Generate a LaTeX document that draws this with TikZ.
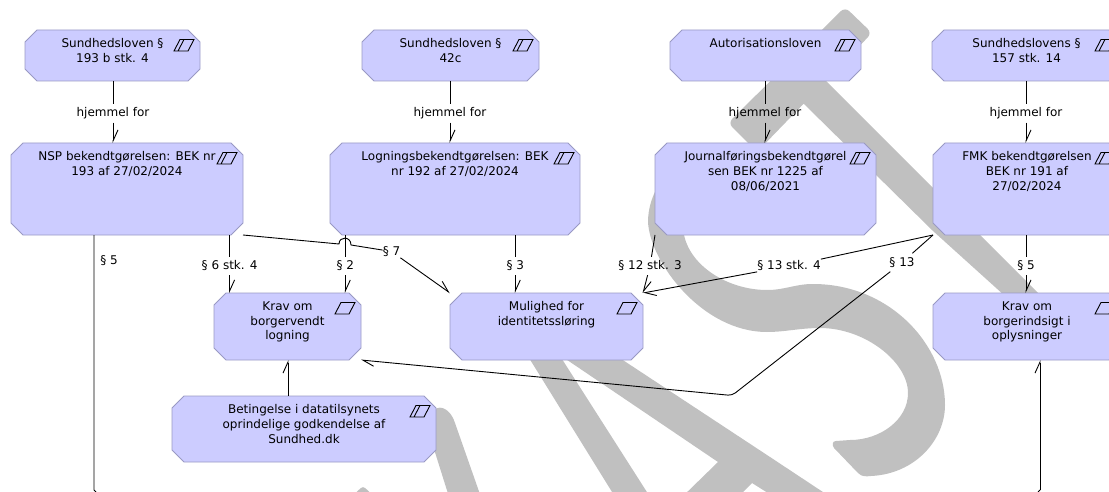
\documentclass[tikz,border=0pt]{standalone}
\usepackage{fontspec}
\setmainfont{DejaVu Sans}
\usetikzlibrary{arrows.meta,calc}
\definecolor{boxfill}{HTML}{CCCCFF}
\definecolor{boxline}{HTML}{9999C4}
\definecolor{wm}{HTML}{C0C0C0}
\tikzset{
  box/.style={draw=boxline,fill=boxfill,line width=0.9pt,line join=round},
  boxframe/.style={rectangle,inner sep=0pt,outer sep=0pt},
  boxtext/.style={anchor=north,align=center,inner sep=0pt,font=\fontsize{12}{14.7}\selectfont},
  lab/.style={inner sep=0pt,minimum height=18pt,font=\fontsize{12}{14}\selectfont},
  conn/.style={line width=0.9pt,black},
  arr/.style={conn,-{Straight Barb[left,length=11pt,width=10pt]}},
  icon/.style={line width=0.9pt,black}
}
\newcommand{\mkbox}[6]{% name, x1, y1, x2, y2, text
  \path[box] ({#2+12},#3)--({#4-12},#3)--(#4,{#3+12})--(#4,{#5-12})--({#4-12},#5)--({#2+12},#5)--(#2,{#5-12})--(#2,{#3+12})--cycle;
  \node[boxframe,minimum width={(#4-#2)*1pt},minimum height={(#5-#3)*1pt}] (#1) at ({(#2+#4)/2},{(#3+#5)/2}) {};
  \node[boxtext] (#1txt) at ($(#1.north)+(0,8.5)$) {#6};
}
\newcommand{\iconA}[1]{\draw[icon,shift={(#1.north east)}] (-20,9.5)--(-6,9.5)--(-12,21)--(-26,21)--cycle (-16,9.5)--(-22,21);}
\newcommand{\iconB}[1]{\draw[icon,shift={(#1.north east)}] (-20,9.5)--(-6,9.5)--(-12,21)--(-26,21)--cycle;}
\begin{document}
\begin{tikzpicture}[x=1pt,y=-1pt]
\useasboundingbox (0,0) rectangle (1109,492);
\clip (0,0) rectangle (1109,492);
% watermark
\fill[wm] (827,82)--(1090,345)--(1055,345)--(1002,293.3)--(933,231)--(804.5,104.5)--(790,95)--(815,70)--cycle;
\fill[wm,rounded corners=6pt] (845,7)--(872,33)--(757,152)--(728,123)--cycle;
\fill[wm] (700,150) .. controls (665,165) and (648,195) .. (648,222)
  .. controls (650,262) and (702,332) .. (767,332)
  .. controls (785,332) and (800,328) .. (820,328)
  .. controls (865,328) and (908,362) .. (908,393)
  .. controls (908,420) and (880,440) .. (850,440)
  -- (836,441) .. controls (832,441) and (832,445) .. (834,448)
  -- (858,473) .. controls (862,477) and (866,476.5) .. (871,476)
  .. controls (915,474) and (945,440) .. (945,405)
  .. controls (945,345) and (890,284) .. (813,284)
  .. controls (795,284) and (785,290) .. (767,290)
  .. controls (725,290) and (683,262) .. (683,225) -- cycle;
\fill[wm] (428,430) -- (433,412) .. controls (436,405) and (449,405) .. (455,423) -- (482,500) -- (450,500) -- cycle;
\fill[wm] (521,345)--(553,345)--(652,500)--(617,500)--cycle;
\fill[wm] (545,345)--(600,345)--(770,457)--(835,500)--(779,500)--(752,483)--(735,500)--(679,500)--(718,462)--cycle;
\fill[wm,rounded corners=3pt] (348,500)--(363,486)--(378,500)--cycle;
% boxes
\mkbox{aa}{25}{30}{200}{81}{Sundhedsloven §\\193 b stk. 4}
\mkbox{ab}{362}{30}{539}{81}{Sundhedsloven §\\42c}
\mkbox{ac}{670}{30}{861}{81}{Autorisationsloven}
\mkbox{ad}{932}{30}{1121}{81}{Sundhedslovens §\\157 stk. 14}
\mkbox{ba}{11}{143}{243}{235}{NSP bekendtgørelsen: BEK nr\\193 af 27/02/2024}
\mkbox{bb}{330}{143}{580}{235}{Logningsbekendtgørelsen: BEK\\nr 192 af 27/02/2024}
\mkbox{bc}{655}{143}{876}{235}{Journalføringsbekendtgørel\\sen BEK nr 1225 af\\08/06/2021}
\mkbox{bd}{933}{143}{1121}{235}{FMK bekendtgørelsen\\BEK nr 191 af\\27/02/2024}
\mkbox{ca}{214}{293}{361}{360}{Krav om\\borgervendt\\logning}
\mkbox{cb}{450}{293}{643}{360}{Mulighed for\\identitetssløring}
\mkbox{cc}{933}{293}{1121}{360}{Krav om\\borgerindsigt i\\oplysninger}
\mkbox{da}{172}{396}{436}{462}{Betingelse i datatilsynets\\oprindelige godkendelse af\\Sundhed.dk}
\iconA{aa}\iconA{ab}\iconA{ac}\iconA{ad}\iconA{ba}\iconA{bb}\iconA{bc}\iconA{bd}\iconA{da}
\iconB{ca}\iconB{cb}\iconB{cc}
% labels
\node[lab] (h1) at (113,113.5) {hjemmel for};
\node[lab] (h2) at (450,113.5) {hjemmel for};
\node[lab] (h3) at (765,113.5) {hjemmel for};
\node[lab] (h4) at (1026,113.5) {hjemmel for};
\node[lab] (l5) at (109,261) {§ 5};
\node[lab] (l6) at (229.6,266) {§ 6 stk. 4};
\node[lab] (l2) at (345.3,266) {§ 2};
\node[lab] (l7) at (391.5,251.5) {§ 7};
\node[lab] (l3) at (515.3,266) {§ 3};
\node[lab] (l12) at (650,266) {§ 12 stk. 3};
\node[lab] (l134) at (789,266) {§ 13 stk. 4};
\node[lab] (l13) at (902,262.5) {§ 13};
\node[lab] (l5b) at (1026,266) {§ 5};
\coordinate (freeL) at (94,490);
\coordinate (freeR) at (1040,490);
\coordinate (bendA) at (339,244);
\coordinate (bendB) at (351,245);
\coordinate (bendC) at (732,395.5);
% connectors
\foreach \a/\h/\b in {aa/h1/ba,ab/h2/bb,ac/h3/bc,ad/h4/bd}{
  \draw[conn] (\h |- \a.south) -- (\h);
  \draw[arr] (\h) -- (\h |- \b.north);
}
\foreach \a/\h/\b in {ba/l6/ca,bb/l2/ca,bb/l3/cb,bd/l5b/cc}{
  \draw[conn] (\h |- \a.south) -- (\h);
  \draw[arr] (\h) -- (\h |- \b.north);
}
\draw[conn] (freeL |- ba.south) -- (freeL) -- ++(2,2);
\draw[arr] (freeR) -- (freeR |- cc.south);
\draw[conn] (freeR) -- ++(-2,2);
\draw[conn] (ba.south east) -- (bendA) .. controls (339,236) and (351,236) .. (bendB) -- (l7);
\draw[arr] (l7) -- (cb.north west);
\draw[conn] (bc.south west) -- (l12);
\draw[arr] (l12) -- (cb.north east);
\draw[conn] (bd.south west) -- (l134);
\draw[arr] (l134) -- (cb.north east);
\draw[conn] (bd.south west) -- (l13);
\draw[arr,rounded corners=4pt] (l13) -- (bendC) -- (ca.south east);
\draw[arr] (da.north -| 288,0) -- (288,360);
\end{tikzpicture}
\end{document}
